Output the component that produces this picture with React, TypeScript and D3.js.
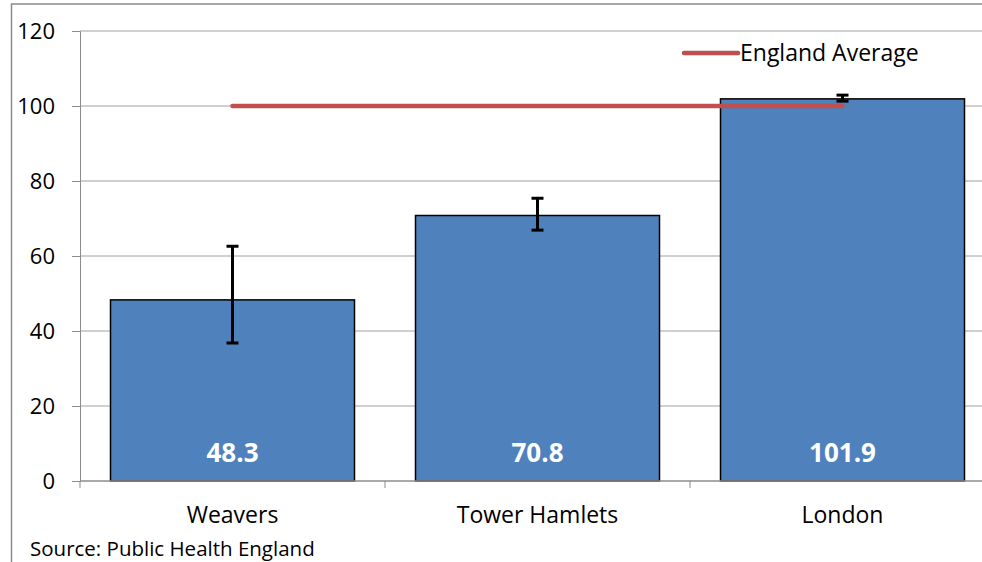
import React, { useRef, useEffect } from "react";
import * as d3 from "d3";

const categories = ["Weavers", "Tower Hamlets", "London"];
const values = [48.3, 70.8, 101.9];
const errLow = [36.8, 66.9, 101.3];
const errHigh = [62.6, 75.4, 102.9];
const englandAverage = 100;
const yTicks = [0, 20, 40, 60, 80, 100, 120];

const App: React.FC = () => {
  const svgRef = useRef<SVGSVGElement | null>(null);

  useEffect(() => {
    const width = 982;
    const height = 562;
    const left = 80;
    const right = 995;
    const top = 31;
    const bottom = 481;
    const font = "'Open Sans', sans-serif";

    const svg = d3.select(svgRef.current);
    svg.selectAll("*").remove();

    // outer chart frame
    svg.append("rect")
      .attr("x", 11.5).attr("y", 4)
      .attr("width", width).attr("height", height + 10)
      .attr("fill", "none").attr("stroke", "#8c8c8c").attr("stroke-width", 1.5);

    const x = d3.scaleBand().domain(categories).range([left, right]).paddingInner(0.2).paddingOuter(0.1);
    const y = d3.scaleLinear().domain([0, 120]).range([bottom, top]);

    // gridlines
    svg.append("g")
      .selectAll("line")
      .data(yTicks.filter((t) => t > 0))
      .join("line")
      .attr("x1", left).attr("x2", right)
      .attr("y1", (d) => y(d)).attr("y2", (d) => y(d))
      .attr("stroke", "#a0a0a0").attr("stroke-width", 1);

    // y axis
    const yAxis = svg.append("g").attr("transform", `translate(${left},0)`)
      .call(d3.axisLeft(y).tickValues(yTicks).tickSize(8).tickPadding(17));
    yAxis.select(".domain").attr("stroke", "#8c8c8c");
    yAxis.selectAll(".tick line").attr("stroke", "#8c8c8c");
    yAxis.selectAll("text").attr("font-family", font).attr("font-size", 22).attr("fill", "#000");

    // bars
    svg.append("g")
      .selectAll("rect")
      .data(values)
      .join("rect")
      .attr("x", (_, i) => x(categories[i])!)
      .attr("width", x.bandwidth())
      .attr("y", (d) => y(d))
      .attr("height", (d) => y(0) - y(d))
      .attr("fill", "#4F81BD")
      .attr("stroke", "#000").attr("stroke-width", 1.5);

    // x axis
    const xPos = d3.scaleLinear().domain([0, categories.length]).range([left, right]);
    const xAxis = svg.append("g").attr("transform", `translate(0,${bottom})`);
    xAxis.append("line").attr("x1", left).attr("x2", right).attr("stroke", "#8c8c8c").attr("stroke-width", 1.5);
    xAxis.selectAll("line.tk")
      .data(d3.range(categories.length + 1))
      .join("line").attr("class", "tk")
      .attr("x1", (d) => xPos(d)).attr("x2", (d) => xPos(d))
      .attr("y1", 0).attr("y2", 7)
      .attr("stroke", "#8c8c8c");
    xAxis.selectAll("text")
      .data(categories)
      .join("text")
      .attr("x", (d) => x(d)! + x.bandwidth() / 2)
      .attr("y", 42)
      .attr("text-anchor", "middle")
      .attr("font-family", font).attr("font-size", 23)
      .text((d) => d);

    // error bars
    const eb = svg.append("g").attr("stroke", "#000").attr("stroke-width", 3);
    categories.forEach((c, i) => {
      const cx = x(c)! + x.bandwidth() / 2;
      eb.append("line").attr("x1", cx).attr("x2", cx).attr("y1", y(errLow[i])).attr("y2", y(errHigh[i]));
      eb.append("line").attr("x1", cx - 6).attr("x2", cx + 6).attr("y1", y(errLow[i])).attr("y2", y(errLow[i]));
      eb.append("line").attr("x1", cx - 6).attr("x2", cx + 6).attr("y1", y(errHigh[i])).attr("y2", y(errHigh[i]));
    });

    // England average line
    const first = x(categories[0])! + x.bandwidth() / 2;
    const last = x(categories[categories.length - 1])! + x.bandwidth() / 2;
    svg.append("line")
      .attr("x1", first).attr("x2", last)
      .attr("y1", y(englandAverage)).attr("y2", y(englandAverage))
      .attr("stroke", "#C0504D").attr("stroke-width", 4.5).attr("stroke-linecap", "round");

    // value labels
    svg.append("g")
      .selectAll("text")
      .data(values)
      .join("text")
      .attr("x", (_, i) => x(categories[i])! + x.bandwidth() / 2)
      .attr("y", 462)
      .attr("text-anchor", "middle")
      .attr("font-family", font).attr("font-size", 26).attr("font-weight", "bold")
      .attr("fill", "#fff")
      .text((d) => d.toFixed(1));

    // legend
    const lg = svg.append("g").attr("transform", "translate(684,53)");
    lg.append("line").attr("x1", 0).attr("x2", 54).attr("y1", 0).attr("y2", 0)
      .attr("stroke", "#C0504D").attr("stroke-width", 4.5).attr("stroke-linecap", "round");
    lg.append("text").attr("x", 56).attr("y", 8)
      .attr("font-family", font).attr("font-size", 23)
      .text("England Average");

    // source
    svg.append("text").attr("x", 30).attr("y", 556)
      .attr("font-family", font).attr("font-size", 20.5)
      .text("Source: Public Health England");
  }, []);

  return (
    <svg ref={svgRef} width={982} height={562}
      style={{ position: "fixed", left: 0, top: 0, background: "#fff" }} />
  );
};

export default App;
